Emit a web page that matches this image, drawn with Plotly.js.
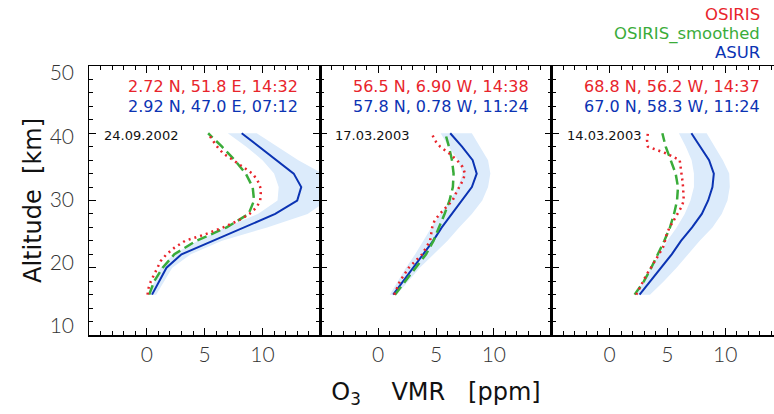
<!DOCTYPE html>
<html><head><meta charset="utf-8">
<script src="https://cdn.plot.ly/plotly-3.0.1.min.js"></script>
<style>html,body{margin:0;padding:0;overflow:hidden;background:#fff}#chart{width:784px;height:414px}</style>
</head><body><div id="chart"></div><script>
// Altitude grids [km]
const altCoarse = [16,18,20,22,24,26,28,30,32,34,36,38,40];
const altFine = [16,17,18,19,20,21,22,23,24,25,26,27,28,29,30,31,32,33,34,35,36,37,38,39,40];

// Panel 1: 24.09.2002
const asur1   = [0.45,1.1,1.7,3.0,5.7,8.4,11.1,13.0,13.35,12.7,11.2,9.7,8.2];
const asurLo1 = [0.15,0.7,1.2,2.3,4.4,6.8,9.6,11.3,11.4,11.0,10.0,8.6,7.0];
const asurHi1 = [0.8,1.5,2.2,3.8,6.5,10.4,13.9,15.6,16.0,15.2,13.1,11.3,9.5];
const osiris1 = [0.06,0.15,0.35,0.64,0.93,1.2,1.7,2.4,3.3,5.09,6.6,7.9,8.87,9.5,9.8,9.85,9.8,9.57,9.13,8.34,7.47,6.6,6.08,5.67,5.29];
const smooth1 = [0.2,0.64,1.37,2.38,4.27,6.9,8.8,9.27,9.15,8.55,7.6,6.5,5.3];

// Panel 2: 17.03.2003
const asur2   = [1.3,2.17,3.04,3.94,4.75,5.5,6.38,7.25,8.1,8.52,8.17,7.25,6.23];
const asurLo2 = [1.0,1.7,2.4,3.2,3.9,4.6,5.4,6.2,6.9,7.3,6.9,6.1,5.4];
const asurHi2 = [1.6,2.6,3.6,4.8,6.0,7.0,8.1,9.0,9.5,9.7,9.5,8.8,8.1];
const osiris2 = [1.39,1.62,1.88,2.26,2.64,3.22,3.8,4.14,4.49,4.58,4.67,4.87,5.33,5.88,6.43,6.7,7.01,7.33,7.51,7.3,6.81,6.14,5.36,4.87,4.64];
const smooth2 = [1.45,2.32,3.19,4.14,4.78,5.28,5.74,6.17,6.46,6.52,6.38,6.12,5.8];

// Panel 3: 14.03.2003
const asur3   = [2.6,3.55,4.45,5.38,6.18,7.14,7.98,8.53,8.9,9.02,8.61,7.86,7.08];
const asurLo3 = [2.3,2.9,3.6,4.3,5.0,5.8,6.5,7.0,7.3,7.3,7.1,6.6,6.0];
const asurHi3 = [3.5,4.7,5.8,6.8,7.8,8.9,9.7,10.2,10.4,10.35,9.8,9.1,8.4];
const osiris3 = [2.31,2.6,2.89,3.21,3.58,3.93,4.28,4.62,4.8,4.94,5.2,5.55,5.92,6.21,6.42,6.42,6.36,6.3,6.21,6.16,6.07,4.91,3.32,3.24,3.32];
const smooth3 = [2.17,2.98,3.61,4.19,4.74,5.23,5.58,5.84,5.92,5.72,5.29,4.86,4.57];

// Text
const dates = ['24.09.2002','17.03.2003','14.03.2003'];
const osirisLoc = ['2.72 N, 51.8 E, 14:32','56.5 N, 6.90 W, 14:38','68.8 N, 56.2 W, 14:37'];
const asurLoc   = ['2.92 N, 47.0 E, 07:12','57.8 N, 0.78 W, 11:24','67.0 N, 58.3 W, 11:24'];
const legendNames = ['OSIRIS','OSIRIS_smoothed','ASUR'];
const xTicks = [0,5,10];
const yTicks = [10,20,30,40,50];

const RED = '#e8242b', GREEN = '#3aac3a', BLUE = '#0b33b3', BAND = '#dcebfb';
const panels = [
  {asur:asur1, lo:asurLo1, hi:asurHi1, osi:osiris1, sm:smooth1},
  {asur:asur2, lo:asurLo2, hi:asurHi2, osi:osiris2, sm:smooth2},
  {asur:asur3, lo:asurLo3, hi:asurHi3, osi:osiris3, sm:smooth3}
];

const traces = [];
panels.forEach((p, i) => {
  const xa = i === 0 ? 'x' : 'x' + (i + 1);
  const ya = i === 0 ? 'y' : 'y' + (i + 1);
  traces.push({x: p.lo.concat(p.hi.slice().reverse()), y: altCoarse.concat(altCoarse.slice().reverse()),
    type:'scatter', mode:'lines', fill:'toself', fillcolor:BAND, line:{width:0, color:BAND},
    xaxis:xa, yaxis:ya, showlegend:false, hoverinfo:'skip'});
  traces.push({x:p.asur, y:altCoarse, type:'scatter', mode:'lines', line:{color:BLUE, width:2},
    xaxis:xa, yaxis:ya, showlegend:false});
  traces.push({x:p.sm, y:altCoarse, type:'scatter', mode:'lines', line:{color:GREEN, width:2.5, dash:'10px,5px'},
    xaxis:xa, yaxis:ya, showlegend:false});
  traces.push({x:p.osi, y:altFine, type:'scatter', mode:'lines', line:{color:RED, width:2.5, dash:'2px,4px'},
    xaxis:xa, yaxis:ya, showlegend:false});
});
// empty trace to attach the label axis (no marks)
traces.push({x:[], y:[], type:'scatter', mode:'lines', xaxis:'x', yaxis:'y4', showlegend:false});

const tickFont = {family:'Lato, "DejaVu Sans", sans-serif', size:21, color:'#333', weight:300};
function xAxis(i){
  return {domain:[i/3,(i+1)/3], anchor: i===0?'y':'y'+(i+1), range:[-5,15], tickmode:'array', tickvals:xTicks,
    ticks:'inside', ticklen:7, tickwidth:1, tickcolor:'#000', showline:true, linecolor:'#000', linewidth:1.5,
    mirror:'ticks', showgrid:false, zeroline:false, tickfont:tickFont, automargin:false,
    minor:{dtick:1, tick0:0, ticks:'inside', ticklen:4, tickwidth:1, tickcolor:'#000', showgrid:false}};
}
function yAxis(i){
  return {anchor: i===0?'x':'x'+(i+1), range:[10,50], tickmode:'array', tickvals:yTicks,
    ticks:'inside', ticklen:7, tickwidth:1, tickcolor:'#000', showline:true, linecolor:'#000', linewidth:1.5,
    mirror:'ticks', showgrid:false, zeroline:false, showticklabels:false, automargin:false,
    minor:{dtick:2, tick0:0, ticks:'inside', ticklen:4, tickwidth:1, tickcolor:'#000', showgrid:false}};
}

const titleFont = {family:'"DejaVu Sans", sans-serif', size:24, color:'#111'};
const layout = {
  width:784, height:414, margin:{l:89, r:1, t:66, b:79},
  paper_bgcolor:'#fff', plot_bgcolor:'#fff', showlegend:false,
  xaxis:xAxis(0), xaxis2:xAxis(1), xaxis3:xAxis(2),
  yaxis:yAxis(0), yaxis2:yAxis(1), yaxis3:yAxis(2),
  // label axis for altitude (IDL-style label spacing)
  yaxis4:{overlaying:'y', anchor:'x', side:'left', range:[8.58,51.1], tickmode:'array', tickvals:yTicks,
    showline:false, ticks:'', showgrid:false, zeroline:false, tickfont:tickFont, automargin:false,
    ticklabelstandoff:14,
    title:{text:'Altitude  [km]', font:titleFont, standoff:1}},
  annotations:[]
};
layout.xaxis2.title = {text:'O<sub>3</sub>    VMR   [ppm]', font:titleFont, standoff:18};

const annFont = {family:'"DejaVu Sans", sans-serif', size:16};
for (let i = 0; i < 3; i++) {
  const xr = (i===0?'x':'x'+(i+1)) + ' domain', yr = (i===0?'y':'y'+(i+1)) + ' domain';
  layout.annotations.push({xref:xr, yref:yr, x:0.91, y:0.922, xanchor:'right', yanchor:'middle', showarrow:false,
    text:osirisLoc[i], font:Object.assign({color:RED}, annFont)});
  layout.annotations.push({xref:xr, yref:yr, x:0.91, y:0.848, xanchor:'right', yanchor:'middle', showarrow:false,
    text:asurLoc[i], font:Object.assign({color:BLUE}, annFont)});
  layout.annotations.push({xref:xr, yref:yr, x:0.056, y:0.743, xanchor:'left', yanchor:'middle', showarrow:false,
    text:dates[i], font:{family:'"DejaVu Sans", sans-serif', size:13, color:'#111'}});
}
const legColors = [RED, GREEN, BLUE];
const legY = [1.19, 1.119, 1.05];
legendNames.forEach((n, k) => {
  layout.annotations.push({xref:'paper', yref:'paper', x:0.970, y:legY[k], xanchor:'right', yanchor:'middle',
    showarrow:false, text:n, font:{family:'"DejaVu Sans", sans-serif', size:16.5, color:legColors[k]}});
});

Plotly.newPlot('chart', traces, layout, {displayModeBar:false, staticPlot:true});
</script></body></html>
